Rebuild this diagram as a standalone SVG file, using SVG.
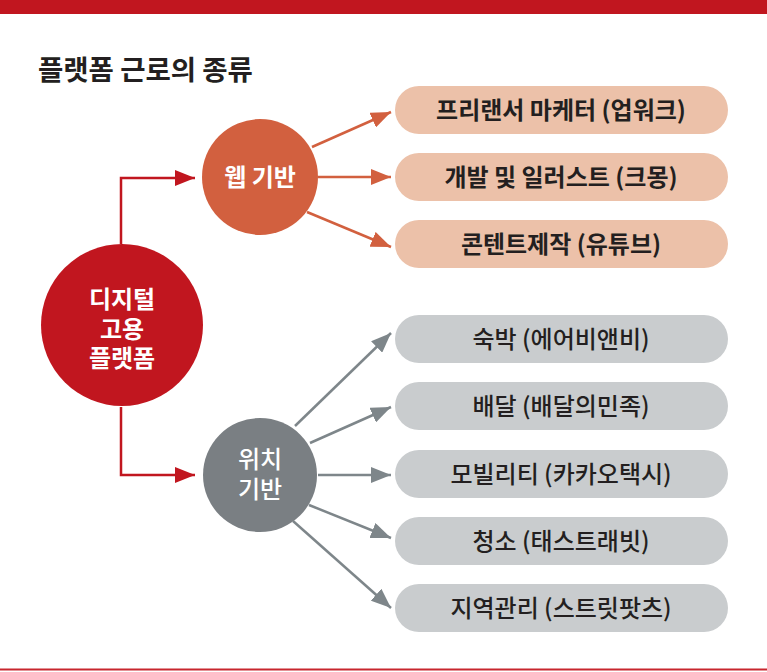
<svg xmlns="http://www.w3.org/2000/svg" width="767" height="672" viewBox="0 0 767 672">
<defs>
<style>
.t{font-family:"Noto Sans CJK KR","Noto Sans",sans-serif;}
.pillp{fill:#ecc1a9;}
.pillg{fill:#c9ccce;}
.lbl{font-size:24px;fill:#231f20;text-anchor:middle;}
.lblp{font-weight:700;}
.lblg{font-weight:500;}
.cw{font-weight:700;fill:#fff;text-anchor:middle;}
.lr{stroke:#c1161f;stroke-width:2.5;fill:none;}
.lo{stroke:#d2603f;stroke-width:2.5;fill:none;}
.lg{stroke:#7e868a;stroke-width:2.5;fill:none;}
</style>
<marker id="ar" markerUnits="userSpaceOnUse" markerWidth="20" markerHeight="16" refX="20" refY="8" orient="auto"><path d="M0,0 L20,8 L0,16 z" fill="#c1161f"/></marker>
<marker id="ao" markerUnits="userSpaceOnUse" markerWidth="20" markerHeight="16" refX="20" refY="8" orient="auto"><path d="M0,0 L20,8 L0,16 z" fill="#d2603f"/></marker>
<marker id="ag" markerUnits="userSpaceOnUse" markerWidth="20" markerHeight="16" refX="20" refY="8" orient="auto"><path d="M0,0 L20,8 L0,16 z" fill="#7e868a"/></marker>
</defs>
<rect x="0" y="0" width="767" height="672" fill="#fff"/>
<rect x="0" y="0" width="767" height="14" fill="#c1161f"/>
<rect x="0" y="668.5" width="767" height="2" fill="#c8262e"/>
<text class="t" x="38" y="80" font-size="27.5" font-weight="700" fill="#231f20">플랫폼 근로의 종류</text>

<g id="connectors">
<path class="lr" d="M121,244 V178 H195" marker-end="url(#ar)"/>
<path class="lr" d="M121,407 V475 H195" marker-end="url(#ar)"/>
<line class="lo" x1="312" y1="147" x2="391" y2="112" marker-end="url(#ao)"/>
<line class="lo" x1="318" y1="177" x2="391" y2="177" marker-end="url(#ao)"/>
<line class="lo" x1="307" y1="212" x2="391" y2="247" marker-end="url(#ao)"/>
<line class="lg" x1="295" y1="426" x2="391" y2="333" marker-end="url(#ag)"/>
<line class="lg" x1="310" y1="443" x2="391" y2="407" marker-end="url(#ag)"/>
<line class="lg" x1="318" y1="475" x2="391" y2="475" marker-end="url(#ag)"/>
<line class="lg" x1="309" y1="505" x2="391" y2="538" marker-end="url(#ag)"/>
<line class="lg" x1="293" y1="521" x2="391" y2="608" marker-end="url(#ag)"/>
</g>

<g id="node-main">
<circle cx="122" cy="325" r="81" fill="#c1161f"/>
<text class="t cw" font-size="24"><tspan x="122" y="308">디지털</tspan><tspan x="122" y="338">고용</tspan><tspan x="122" y="367">플랫폼</tspan></text>
</g>
<g id="node-web">
<circle cx="260" cy="177" r="58" fill="#d2603f"/>
<text class="t cw" font-size="24" x="260" y="186">웹 기반</text>
</g>
<g id="node-loc">
<circle cx="260" cy="475" r="57" fill="#7a7f83"/>
<text class="t cw" font-size="24" style="font-weight:500"><tspan x="260" y="468">위치</tspan><tspan x="260" y="498">기반</tspan></text>
</g>

<g id="node-p1"><rect class="pillp" x="395" y="86" width="333" height="48" rx="24"/><text class="t lbl lblp" x="561" y="119">프리랜서 마케터 (업워크)</text></g>
<g id="node-p2"><rect class="pillp" x="395" y="153" width="333" height="48" rx="24"/><text class="t lbl lblp" x="561" y="186">개발 및 일러스트 (크몽)</text></g>
<g id="node-p3"><rect class="pillp" x="395" y="220" width="333" height="48" rx="24"/><text class="t lbl lblp" x="561" y="253">콘텐트제작 (유튜브)</text></g>

<g id="node-g1"><rect class="pillg" x="395" y="315" width="333" height="48" rx="24"/><text class="t lbl lblg" x="561" y="348">숙박 (에어비앤비)</text></g>
<g id="node-g2"><rect class="pillg" x="395" y="382" width="333" height="48" rx="24"/><text class="t lbl lblg" x="561" y="415">배달 (배달의민족)</text></g>
<g id="node-g3"><rect class="pillg" x="395" y="450" width="333" height="48" rx="24"/><text class="t lbl lblg" x="561" y="483">모빌리티 (카카오택시)</text></g>
<g id="node-g4"><rect class="pillg" x="395" y="517" width="333" height="48" rx="24"/><text class="t lbl lblg" x="561" y="550">청소 (태스트래빗)</text></g>
<g id="node-g5"><rect class="pillg" x="395" y="584" width="333" height="48" rx="24"/><text class="t lbl lblg" x="561" y="617">지역관리 (스트릿팟츠)</text></g>
</svg>
